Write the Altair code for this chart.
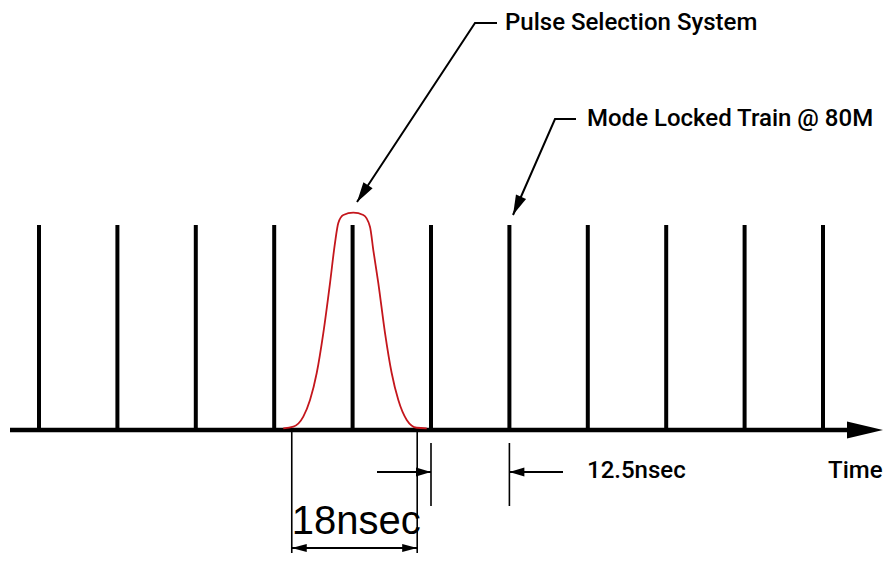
import altair as alt
import pandas as pd

# ---------------- data (time in ns, amplitude normalised) ----------------
pulse_times = [0, 12.5, 25, 37.5, 50, 62.5, 75, 87.5, 100, 112.5, 125]
pulse_amp = [1.0] * len(pulse_times)

sel_t = [38.95, 40.55, 42.14, 43.21, 44.28, 45.33, 46.40, 47.19, 47.72, 48.52, 50.11,
         51.71, 52.77, 53.30, 54.10, 55.17, 56.23, 57.29, 58.63, 60.22, 61.82]
sel_amp = [0.008, 0.016, 0.065, 0.146, 0.278, 0.473, 0.717, 0.912, 1.010, 1.049, 1.060,
           1.049, 0.992, 0.878, 0.717, 0.473, 0.278, 0.146, 0.049, 0.011, 0.008]

gate_window = [40.3, 60.3]      # the "18nsec" marks
spacing_marks = [62.5, 75.0]    # the "12.5nsec" marks

label_pulse_sel = "Pulse Selection System"
label_train = "Mode Locked Train @ 80M"
label_spacing = "12.5nsec"
label_time = "Time"
label_gate = "18nsec"

# ---------------- layout helpers (page pixels -> data units) ----------------
W, H = 875, 545
PX0, PXS = 39.0, 6.272     # page x of t=0, px per ns
PY0, PYS = 430.0, 205.0    # page y of amplitude 0, px per unit amplitude


def X(px):
    return (px - PX0) / PXS


def Y(py):
    return (PY0 - py) / PYS


def P(t):
    return PX0 + t * PXS


XDOM = [X(8), X(8 + W)]
YDOM = [Y(8 + H), Y(8)]
xs = alt.Scale(domain=XDOM, nice=False, zero=False)
ys = alt.Scale(domain=YDOM, nice=False, zero=False)


def tri(tip, frm, length, hw):
    tx, ty = tip
    fx, fy = frm
    dx, dy = tx - fx, ty - fy
    n = (dx * dx + dy * dy) ** 0.5
    ux, uy = dx / n, dy / n
    bx, by = tx - ux * length, ty - uy * length
    px_, py_ = -uy, ux
    return [(tx, ty), (bx + px_ * hw, by + py_ * hw), (bx - px_ * hw, by - py_ * hw)]


def tri_rows(pts, tid):
    v = sorted([(X(a), Y(b)) for a, b in pts])
    (x1, y1), (x2, y2), (x3, y3) = v
    if abs(x2 - x1) < 1e-9:
        return [
            {"id": tid, "x": x1, "y": min(y1, y2), "y2": max(y1, y2)},
            {"id": tid, "x": x3, "y": y3, "y2": y3},
        ]
    if abs(x3 - x2) < 1e-9:
        return [
            {"id": tid, "x": x1, "y": y1, "y2": y1},
            {"id": tid, "x": x2, "y": min(y2, y3), "y2": max(y2, y3)},
        ]
    yo = y1 + (y3 - y1) * (x2 - x1) / (x3 - x1)
    return [
        {"id": tid, "x": x1, "y": y1, "y2": y1},
        {"id": tid, "x": x2, "y": min(y2, yo), "y2": max(y2, yo)},
        {"id": tid, "x": x3, "y": y3, "y2": y3},
    ]


# ---------------- tables ----------------
pulses = pd.DataFrame({"t": pulse_times, "a": pulse_amp})
curve = pd.DataFrame({"t": sel_t, "a": sel_amp})

axis_line = pd.DataFrame([{"x": X(10), "x2": X(848), "y": 0.0}])

thin_v = pd.DataFrame([
    {"x": gate_window[0], "y": 0.0, "y2": Y(561)},
    {"x": gate_window[1], "y": 0.0, "y2": Y(561)},
    {"x": spacing_marks[0], "y": Y(443), "y2": Y(506)},
    {"x": spacing_marks[1], "y": Y(443), "y2": Y(506)},
])
thin_h = pd.DataFrame([
    {"x": gate_window[0], "x2": gate_window[1], "y": Y(548)},
    {"x": X(377), "x2": spacing_marks[0], "y": Y(472)},
    {"x": spacing_marks[1], "x2": X(563), "y": Y(472)},
])

leader_pts = [
    [(497, 23), (475, 23), (357, 202)],
    [(576, 119), (555, 119), (513, 215)],
]
leaders = pd.DataFrame([
    {"id": i, "o": j, "x": X(a), "y": Y(b)}
    for i, pts in enumerate(leader_pts) for j, (a, b) in enumerate(pts)
])

heads = []
heads += tri_rows(tri((8 + W, 430), (840, 430), 36, 8.5), "axis")
g0, g1 = P(gate_window[0]), P(gate_window[1])
heads += tri_rows(tri((g0, 548), (g1, 548), 15, 4), "g0")
heads += tri_rows(tri((g1, 548), (g0, 548), 15, 4), "g1")
s0, s1 = P(spacing_marks[0]), P(spacing_marks[1])
heads += tri_rows(tri((s0, 472), (377, 472), 15, 4.5), "s0")
heads += tri_rows(tri((s1, 472), (563, 472), 15, 4.5), "s1")
heads += tri_rows(tri((357, 202), (475, 23), 20, 5.5), "l0")
heads += tri_rows(tri((513, 215), (555, 119), 20, 5.5), "l1")
heads = pd.DataFrame(heads)

texts_cond = pd.DataFrame([
    {"x": X(505), "y": Y(23), "txt": label_pulse_sel},
    {"x": X(587), "y": Y(119), "txt": label_train},
    {"x": X(587), "y": Y(471), "txt": label_spacing},
    {"x": X(828), "y": Y(471), "txt": label_time},
])
texts_gate = pd.DataFrame([{"x": gate_window[0], "y": Y(522), "txt": label_gate}])

COND = "Roboto, sans-serif"

# ---------------- layers ----------------
base_axis = alt.Chart(axis_line).mark_rule(color="black", strokeWidth=4.5).encode(
    x=alt.X("x:Q", scale=xs, axis=None), x2="x2:Q",
    y=alt.Y("y:Q", scale=ys, axis=None))

pulse_layer = alt.Chart(pulses).mark_rule(color="black", strokeWidth=4).encode(
    x=alt.X("t:Q", scale=xs, axis=None),
    y=alt.Y("a:Q", scale=ys, axis=None), y2=alt.datum(0))

curve_layer = alt.Chart(curve).mark_line(color="#c4161c", strokeWidth=1.8,
                                         interpolate="monotone").encode(
    x=alt.X("t:Q", scale=xs, axis=None),
    y=alt.Y("a:Q", scale=ys, axis=None))

vlines = alt.Chart(thin_v).mark_rule(color="black", strokeWidth=1.6).encode(
    x=alt.X("x:Q", scale=xs, axis=None),
    y=alt.Y("y:Q", scale=ys, axis=None), y2="y2:Q")

hlines = alt.Chart(thin_h).mark_rule(color="black", strokeWidth=1.8).encode(
    x=alt.X("x:Q", scale=xs, axis=None), x2="x2:Q",
    y=alt.Y("y:Q", scale=ys, axis=None))

leader_layer = alt.Chart(leaders).mark_line(color="black", strokeWidth=2).encode(
    x=alt.X("x:Q", scale=xs, axis=None),
    y=alt.Y("y:Q", scale=ys, axis=None),
    detail="id:N", order="o:Q")

head_layer = alt.Chart(heads).mark_area(color="black", opacity=1,
                                        interpolate="linear").encode(
    x=alt.X("x:Q", scale=xs, axis=None),
    y=alt.Y("y:Q", scale=ys, axis=None, stack=None), y2="y2:Q",
    detail="id:N")

text_cond = alt.Chart(texts_cond).mark_text(
    align="left", baseline="middle", font=COND, fontSize=24, fontWeight=500,
    color="black").encode(
    x=alt.X("x:Q", scale=xs, axis=None),
    y=alt.Y("y:Q", scale=ys, axis=None), text="txt:N")

text_gate = alt.Chart(texts_gate).mark_text(
    align="left", baseline="middle", font="Liberation Sans, Arial, sans-serif",
    fontSize=40, color="black").encode(
    x=alt.X("x:Q", scale=xs, axis=None),
    y=alt.Y("y:Q", scale=ys, axis=None), text="txt:N")

chart = alt.layer(
    base_axis, pulse_layer, curve_layer, vlines, hlines, leader_layer,
    head_layer, text_cond, text_gate
).properties(
    width=W, height=H, padding=0,
    autosize=alt.AutoSizeParams(type="none"),
    background="white",
).configure_view(stroke=None)

chart.save("out.html", embed_options={"renderer": "svg", "actions": False})
